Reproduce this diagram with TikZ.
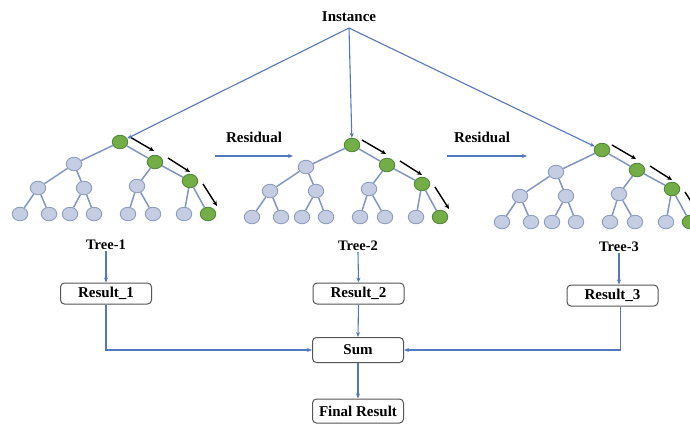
\documentclass[tikz,border=0pt]{standalone}
\usepackage{fontspec}
\setmainfont{Liberation Serif}
\usetikzlibrary{arrows.meta,shapes.geometric}
\definecolor{flowblue}{HTML}{5478BE}
\definecolor{edgegray}{HTML}{8296C2}
\definecolor{leaffill}{HTML}{C4CDE2}
\definecolor{leafline}{HTML}{8E9DC0}
\definecolor{pathfill}{HTML}{72AE45}
\definecolor{pathline}{HTML}{52893A}
\definecolor{boxline}{HTML}{555555}

\tikzset{
  lbl/.style={font=\fontsize{15}{18}\selectfont\bfseries, inner sep=1pt},
  treelbl/.style={font=\fontsize{14.5}{17}\selectfont\bfseries, inner sep=1pt},
  bnode/.style={ellipse, draw=leafline, fill=leaffill, line width=0.9pt,
    minimum width=15.5pt, minimum height=13.5pt, inner sep=0pt},
  gnode/.style={bnode, draw=pathline, fill=pathfill},
  tedge/.style={draw=edgegray, line width=1.5pt},
  flow/.style={draw=flowblue, line width=1.1pt, -{Stealth[length=5pt,width=4pt]}},
  walk/.style={draw=black, line width=1.4pt, -{Stealth[length=5pt,width=4.5pt]}},
  resbox/.style={draw=boxline, line width=1pt, rounded corners=4pt,
    minimum width=91pt, minimum height=21pt, inner sep=0pt,
    font=\fontsize{15}{18}\selectfont\bfseries},
}

% one boosted tree: root at (#2,#3), node names prefixed with #1
\newcommand\gbtree[3]{%
  \begin{scope}[shift={(#2,#3)}]
    \node[gnode] (#1r)   at (0,0)   {};
    \node[bnode] (#1a)   at (-46,22) {};
    \node[gnode] (#1b)   at (35,20)  {};
    \node[bnode] (#1aa)  at (-82,46) {};
    \node[bnode] (#1ab)  at (-36,46) {};
    \node[bnode] (#1ba)  at (17,44)  {};
    \node[gnode] (#1bb)  at (70,39)  {};
    \node[bnode] (#1aaa) at (-100,72) {};
    \node[bnode] (#1aab) at (-71,72)  {};
    \node[bnode] (#1aba) at (-50,72)  {};
    \node[bnode] (#1abb) at (-26,72)  {};
    \node[bnode] (#1baa) at (8,72)    {};
    \node[bnode] (#1bab) at (33,72)   {};
    \node[bnode] (#1bba) at (64,72)   {};
    \node[gnode] (#1bbb) at (88,72)   {};
    \path[tedge] (#1r) -- (#1a)  (#1r) -- (#1b)
      (#1a) -- (#1aa)  (#1a) -- (#1ab)  (#1b) -- (#1ba)  (#1b) -- (#1bb)
      (#1aa) -- (#1aaa) (#1aa) -- (#1aab) (#1ab) -- (#1aba) (#1ab) -- (#1abb)
      (#1ba) -- (#1baa) (#1ba) -- (#1bab) (#1bb) -- (#1bba) (#1bb) -- (#1bbb);
    % path followed to the leaf
    \coordinate (#1w0) at (10,-5);  \coordinate (#1w1) at (34,9);
    \coordinate (#1w2) at (48,16);  \coordinate (#1w3) at (70,30);
    \coordinate (#1w4) at (83,42);  \coordinate (#1w5) at (97,64);
    \draw[walk] (#1w0) -- (#1w1);
    \draw[walk] (#1w2) -- (#1w3);
    \draw[walk] (#1w4) -- (#1w5);
  \end{scope}}

\begin{document}
\begin{tikzpicture}[x=1pt, y=-1pt]
  \useasboundingbox (0,0) rectangle (690,424);
  \clip (0,0) rectangle (690,424);
  \fill[white] (0,0) rectangle (690,424);

  % input
  \node[lbl] (inst) at (349,17) {Instance};
  \coordinate (split) at (349,28);

  % the three trees
  \gbtree{t1}{120}{142}
  \gbtree{t2}{352}{145}
  \gbtree{t3}{602}{150}

  \draw[flow] (split) -- (t1r);
  \draw[flow] (split) -- (t2r);
  \draw[flow] (split) -- (t3r);

  % residual hand-over
  \node[lbl] (resA) at (254,137) {Residual};
  \node[lbl] (resB) at (482,137) {Residual};
  \coordinate (rA0) at (215,156); \coordinate (rA1) at (293,156);
  \coordinate (rB0) at (447,156); \coordinate (rB1) at (527,156);
  \draw[flow] (rA0) -- (rA1);
  \draw[flow] (rB0) -- (rB1);

  % tree outputs
  \node[treelbl] (lab1) at (106,245) {Tree-1};
  \node[treelbl] (lab2) at (358,246) {Tree-2};
  \node[treelbl] (lab3) at (619,247) {Tree-3};

  \node[resbox] (res1) at (106,293.5) {Result\_1};
  \node[resbox] (res2) at (358.5,293.5) {Result\_2};
  \node[resbox] (res3) at (612.5,295.5) {Result\_3};

  \draw[flow] (lab1.south) -- (res1.north);
  \draw[flow] (lab2.south) -- (res2.north);
  \draw[flow] (lab3.south) -- (lab3.south |- res3.north);

  % aggregation
  \node[resbox, minimum height=25pt] (sum) at (358,350) {Sum};
  \node[resbox, minimum height=24pt] (final) at (358,411) {Final Result};

  \draw[flow] (res1.south) |- (sum.west);
  \draw[flow] (res2.south) -- (sum.north);
  \draw[flow] ([xshift=8pt]res3.south) |- (sum.east);
  \draw[flow] (sum.south) -- (final.north);
\end{tikzpicture}
\end{document}
